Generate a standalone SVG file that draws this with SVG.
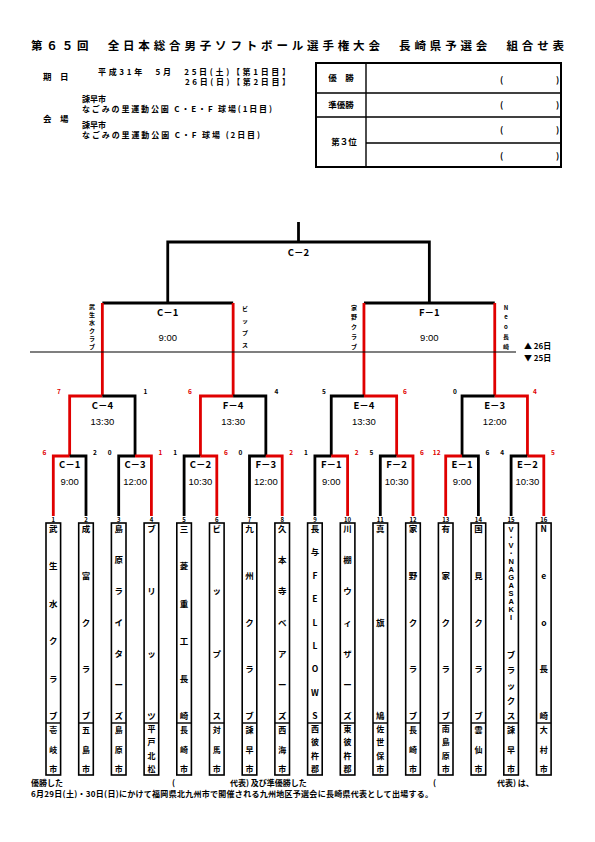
<svg xmlns="http://www.w3.org/2000/svg" width="595" height="842" viewBox="0 0 595 842">
<style>
text{font-family:"Noto Sans CJK JP","Liberation Sans",sans-serif;fill:#000}
.ttl{font-size:11.5px;font-weight:bold}
.hd{font-size:8.5px;font-weight:bold}
.hs{font-size:8px;font-weight:bold}
.c{text-anchor:middle}
.lbl{font-size:9.5px;font-weight:bold;text-anchor:middle}
.tm{font-family:"Liberation Sans",sans-serif;font-size:9.5px;text-anchor:middle}
.sc{font-size:6.5px;font-weight:bold;text-anchor:middle}
.red{fill:#e00000}
.nm{font-size:8.5px;font-weight:bold;text-anchor:middle}
.ct{font-size:8px;font-weight:bold;text-anchor:middle}
.no{font-size:6px;font-weight:bold;text-anchor:middle}
.vl{font-size:6px;font-weight:bold;text-anchor:middle}
.lat{font-family:"Liberation Sans",sans-serif;font-size:7.5px;font-weight:bold;text-anchor:middle}
.bk{fill:none;stroke:#000;stroke-width:2.8}
.rd{fill:none;stroke:#e00000;stroke-width:2.8}
.box{fill:#fff;stroke:#000;stroke-width:1.6}
.tb{fill:none;stroke:#000;stroke-width:2}
.tl{stroke:#000;stroke-width:1.4}
</style>

<g id="title">
<text class="ttl" x="31" y="50" textLength="533" lengthAdjust="spacing">第６５回　全日本総合男子ソフトボール選手権大会　長崎県予選会　組合せ表</text>
</g>

<g id="header">
<text class="hd" x="43" y="80" font-size="9.5">期　日</text>
<text class="hs" x="98" y="75" textLength="192" lengthAdjust="spacing">平成31年　5月　25日(土)【第1日目】</text>
<text class="hs" x="185" y="85" textLength="105" lengthAdjust="spacing">26日(日)【第2日目】</text>
<text class="hd" x="43" y="122" font-size="9.5">会　場</text>
<text class="hs" x="82" y="102">諫早市</text>
<text class="hs" x="82" y="112" textLength="190" lengthAdjust="spacing">なごみの里運動公園 C・E・F 球場(1日目)</text>
<text class="hs" x="82" y="128">諫早市</text>
<text class="hs" x="82" y="138" textLength="178" lengthAdjust="spacing">なごみの里運動公園 C・F 球場 (2日目)</text>
</g>

<g id="result-table">
<rect class="tb" x="316" y="63" width="245" height="104"/>
<line class="tl" x1="366" y1="63" x2="366" y2="167"/>
<line class="tl" x1="316" y1="93" x2="561" y2="93"/>
<line class="tl" x1="316" y1="117" x2="561" y2="117"/>
<line class="tl" x1="366" y1="143" x2="561" y2="143"/>
<text class="hd c" x="341" y="81">優　勝</text>
<text class="hd c" x="341" y="108">準優勝</text>
<text class="hd c" x="344" y="145">第３位</text>
<text class="hd" x="500" y="83">(</text><text class="hd" x="556" y="83">)</text>
<text class="hd" x="500" y="108">(</text><text class="hd" x="556" y="108">)</text>
<text class="hd" x="500" y="133">(</text><text class="hd" x="556" y="133">)</text>
<text class="hd" x="500" y="159">(</text><text class="hd" x="556" y="159">)</text>
</g>

<g id="connectors">
<path class="bk" d="M298.5 222V242"/>
<path class="bk" d="M167.75 303V242H429.35V303"/>
<path class="bk" d="M102.35 303H233.15"/>
<path class="bk" d="M363.95 303H494.75"/>
<path class="rd" d="M102.35 303V396M233.15 303V396M363.95 303V396M494.75 303V396"/>
<line x1="30" y1="352" x2="516" y2="352" stroke="#000" stroke-width="1.2"/>
<path class="rd" d="M69.65 456V396H102.35"/><path class="bk" d="M102.35 396H135.05V456"/>
<path class="rd" d="M200.45 456V396H233.15"/><path class="bk" d="M233.15 396H265.85V456"/>
<path class="bk" d="M331.25 456V396H363.95"/><path class="rd" d="M363.95 396H396.65V456"/>
<path class="bk" d="M462.05 456V396H494.75"/><path class="rd" d="M494.75 396H527.45V456"/>
<path class="rd" d="M53.3 516V456H69.65"/><path class="bk" d="M69.65 456H86V516"/>
<path class="bk" d="M118.7 516V456H135.05"/><path class="rd" d="M135.05 456H151.4V516"/>
<path class="bk" d="M184.1 516V456H200.45"/><path class="rd" d="M200.45 456H216.8V516"/>
<path class="bk" d="M249.5 516V456H265.85"/><path class="rd" d="M265.85 456H282.2V516"/>
<path class="bk" d="M314.9 516V456H331.25"/><path class="rd" d="M331.25 456H347.6V516"/>
<path class="bk" d="M380.3 516V456H396.65"/><path class="rd" d="M396.65 456H413V516"/>
<path class="rd" d="M445.7 516V456H462.05"/><path class="bk" d="M462.05 456H478.4V516"/>
<path class="bk" d="M511.1 516V456H527.45"/><path class="rd" d="M527.45 456H543.8V516"/>
</g>

<g id="day-marks">
<text class="hs" x="524" y="349">▲ 26日</text>
<text class="hs" x="524" y="361">▼ 25日</text>
</g>

<g id="game-C2">
<text class="lbl" x="298.5" y="256">C－2</text>
</g>
<g id="game-C1-final">
<text class="lbl" x="167.75" y="316">C－1</text>
<text class="tm" x="167.75" y="341">9:00</text>
<text class="vl"><tspan x="92" y="308.5">武</tspan><tspan x="92" y="316.5">生</tspan><tspan x="92" y="324.5">水</tspan><tspan x="92" y="332.5">ク</tspan><tspan x="92" y="340.5">ラ</tspan><tspan x="92" y="348.5">ブ</tspan></text>
<text class="vl"><tspan x="245" y="310.5">ビ</tspan><tspan x="245" y="322.5">ッ</tspan><tspan x="245" y="334.5">プ</tspan><tspan x="245" y="346.5">ス</tspan></text>
</g>
<g id="game-F1-final">
<text class="lbl" x="429.35" y="316">F－1</text>
<text class="tm" x="429.35" y="341">9:00</text>
<text class="vl"><tspan x="354" y="309.5">家</tspan><tspan x="354" y="319.2">野</tspan><tspan x="354" y="329">ク</tspan><tspan x="354" y="338.7">ラ</tspan><tspan x="354" y="348.5">ブ</tspan></text>
<text class="vl"><tspan x="506" y="309.5">N</tspan><tspan x="506" y="319.2">e</tspan><tspan x="506" y="329">o</tspan><tspan x="506" y="338.7">長</tspan><tspan x="506" y="348.5">崎</tspan></text>
</g>

<g id="game-C4">
<text class="lbl" x="102.35" y="409">C－4</text>
<text class="tm" x="102.35" y="425">13:30</text>
<text class="sc red" x="59" y="394">7</text><text class="sc" x="145.5" y="394">1</text>
</g>
<g id="game-F4">
<text class="lbl" x="233.15" y="409">F－4</text>
<text class="tm" x="233.15" y="425">13:30</text>
<text class="sc red" x="190" y="394">6</text><text class="sc" x="276.5" y="394">4</text>
</g>
<g id="game-E4">
<text class="lbl" x="363.95" y="409">E－4</text>
<text class="tm" x="363.95" y="425">13:30</text>
<text class="sc" x="324" y="394">5</text><text class="sc red" x="405" y="394">6</text>
</g>
<g id="game-E3">
<text class="lbl" x="494.75" y="409">E－3</text>
<text class="tm" x="494.75" y="425">12:00</text>
<text class="sc" x="455" y="394">0</text><text class="sc red" x="535" y="394">4</text>
</g>

<g id="game-C1">
<text class="lbl" x="69.65" y="468">C－1</text><text class="tm" x="69.65" y="485">9:00</text>
<text class="sc red" x="44.3" y="455">6</text><text class="sc" x="95" y="455">2</text>
</g>
<g id="game-C3">
<text class="lbl" x="135.05" y="468">C－3</text><text class="tm" x="135.05" y="485">12:00</text>
<text class="sc" x="109.7" y="455">0</text><text class="sc red" x="160.4" y="455">1</text>
</g>
<g id="game-C2-first">
<text class="lbl" x="200.45" y="468">C－2</text><text class="tm" x="200.45" y="485">10:30</text>
<text class="sc" x="175.1" y="455">1</text><text class="sc red" x="225.8" y="455">6</text>
</g>
<g id="game-F3">
<text class="lbl" x="265.85" y="468">F－3</text><text class="tm" x="265.85" y="485">12:00</text>
<text class="sc" x="240.5" y="455">0</text><text class="sc red" x="291.2" y="455">2</text>
</g>
<g id="game-F1">
<text class="lbl" x="331.25" y="468">F－1</text><text class="tm" x="331.25" y="485">9:00</text>
<text class="sc" x="305.9" y="455">1</text><text class="sc red" x="356.6" y="455">2</text>
</g>
<g id="game-F2">
<text class="lbl" x="396.65" y="468">F－2</text><text class="tm" x="396.65" y="485">10:30</text>
<text class="sc" x="371.3" y="455">5</text><text class="sc red" x="422" y="455">6</text>
</g>
<g id="game-E1">
<text class="lbl" x="462.05" y="468">E－1</text><text class="tm" x="462.05" y="485">9:00</text>
<text class="sc red" x="436.7" y="455">12</text><text class="sc" x="487.4" y="455">6</text>
</g>
<g id="game-E2">
<text class="lbl" x="527.45" y="468">E－2</text><text class="tm" x="527.45" y="485">10:30</text>
<text class="sc" x="502.1" y="455">4</text><text class="sc red" x="552.8" y="455">5</text>
</g>

<g id="team1">
<rect class="box" x="46" y="523" width="14.6" height="252"/><line class="tl" x1="46" y1="723" x2="60.6" y2="723"/>
<text class="no" x="53.3" y="521.5">1</text>
<text class="nm"><tspan x="53.3" y="532">武</tspan><tspan x="53.3" y="569.4">生</tspan><tspan x="53.3" y="606.8">水</tspan><tspan x="53.3" y="644.2">ク</tspan><tspan x="53.3" y="681.6">ラ</tspan><tspan x="53.3" y="719">ブ</tspan></text>
<text class="ct"><tspan x="53.3" y="733">壱</tspan><tspan x="53.3" y="752.5">岐</tspan><tspan x="53.3" y="772">市</tspan></text>
</g>
<g id="team2">
<rect class="box" x="78.7" y="523" width="14.6" height="252"/><line class="tl" x1="78.7" y1="723" x2="93.3" y2="723"/>
<text class="no" x="86" y="521.5">2</text>
<text class="nm"><tspan x="86" y="532">成</tspan><tspan x="86" y="578.8">富</tspan><tspan x="86" y="625.5">ク</tspan><tspan x="86" y="672.3">ラ</tspan><tspan x="86" y="719">ブ</tspan></text>
<text class="ct"><tspan x="86" y="733">五</tspan><tspan x="86" y="752.5">島</tspan><tspan x="86" y="772">市</tspan></text>
</g>
<g id="team3">
<rect class="box" x="111.4" y="523" width="14.6" height="252"/><line class="tl" x1="111.4" y1="723" x2="126" y2="723"/>
<text class="no" x="118.7" y="521.5">3</text>
<text class="nm"><tspan x="118.7" y="532">島</tspan><tspan x="118.7" y="563.2">原</tspan><tspan x="118.7" y="594.3">ラ</tspan><tspan x="118.7" y="625.5">イ</tspan><tspan x="118.7" y="656.7">タ</tspan><tspan x="118.7" y="687.8">ー</tspan><tspan x="118.7" y="719">ズ</tspan></text>
<text class="ct"><tspan x="118.7" y="733">島</tspan><tspan x="118.7" y="752.5">原</tspan><tspan x="118.7" y="772">市</tspan></text>
</g>
<g id="team4">
<rect class="box" x="144.1" y="523" width="14.6" height="252"/><line class="tl" x1="144.1" y1="723" x2="158.7" y2="723"/>
<text class="no" x="151.4" y="521.5">4</text>
<text class="nm"><tspan x="151.4" y="532">ブ</tspan><tspan x="151.4" y="594.3">リ</tspan><tspan x="151.4" y="656.7">ッ</tspan><tspan x="151.4" y="719">ツ</tspan></text>
<text class="ct"><tspan x="151.4" y="732">平</tspan><tspan x="151.4" y="745.3">戸</tspan><tspan x="151.4" y="758.7">北</tspan><tspan x="151.4" y="772">松</tspan></text>
</g>
<g id="team5">
<rect class="box" x="176.8" y="523" width="14.6" height="252"/><line class="tl" x1="176.8" y1="723" x2="191.4" y2="723"/>
<text class="no" x="184.1" y="521.5">5</text>
<text class="nm"><tspan x="184.1" y="532">三</tspan><tspan x="184.1" y="569.4">菱</tspan><tspan x="184.1" y="606.8">重</tspan><tspan x="184.1" y="644.2">工</tspan><tspan x="184.1" y="681.6">長</tspan><tspan x="184.1" y="719">崎</tspan></text>
<text class="ct"><tspan x="184.1" y="733">長</tspan><tspan x="184.1" y="752.5">崎</tspan><tspan x="184.1" y="772">市</tspan></text>
</g>
<g id="team6">
<rect class="box" x="209.5" y="523" width="14.6" height="252"/><line class="tl" x1="209.5" y1="723" x2="224.1" y2="723"/>
<text class="no" x="216.8" y="521.5">6</text>
<text class="nm"><tspan x="216.8" y="532">ビ</tspan><tspan x="216.8" y="594.3">ッ</tspan><tspan x="216.8" y="656.7">プ</tspan><tspan x="216.8" y="719">ス</tspan></text>
<text class="ct"><tspan x="216.8" y="733">対</tspan><tspan x="216.8" y="752.5">馬</tspan><tspan x="216.8" y="772">市</tspan></text>
</g>
<g id="team7">
<rect class="box" x="242.2" y="523" width="14.6" height="252"/><line class="tl" x1="242.2" y1="723" x2="256.8" y2="723"/>
<text class="no" x="249.5" y="521.5">7</text>
<text class="nm"><tspan x="249.5" y="532">九</tspan><tspan x="249.5" y="578.8">州</tspan><tspan x="249.5" y="625.5">ク</tspan><tspan x="249.5" y="672.3">ラ</tspan><tspan x="249.5" y="719">ブ</tspan></text>
<text class="ct"><tspan x="249.5" y="733">諫</tspan><tspan x="249.5" y="752.5">早</tspan><tspan x="249.5" y="772">市</tspan></text>
</g>
<g id="team8">
<rect class="box" x="274.9" y="523" width="14.6" height="252"/><line class="tl" x1="274.9" y1="723" x2="289.5" y2="723"/>
<text class="no" x="282.2" y="521.5">8</text>
<text class="nm"><tspan x="282.2" y="532">久</tspan><tspan x="282.2" y="563.2">本</tspan><tspan x="282.2" y="594.3">寺</tspan><tspan x="282.2" y="625.5">ベ</tspan><tspan x="282.2" y="656.7">ア</tspan><tspan x="282.2" y="687.8">ー</tspan><tspan x="282.2" y="719">ズ</tspan></text>
<text class="ct"><tspan x="282.2" y="733">西</tspan><tspan x="282.2" y="752.5">海</tspan><tspan x="282.2" y="772">市</tspan></text>
</g>
<g id="team9">
<rect class="box" x="307.6" y="523" width="14.6" height="252"/><line class="tl" x1="307.6" y1="723" x2="322.2" y2="723"/>
<text class="no" x="314.9" y="521.5">9</text>
<text class="nm"><tspan x="314.9" y="532">長</tspan><tspan x="314.9" y="555.4">与</tspan><tspan x="314.9" y="578.8">F</tspan><tspan x="314.9" y="602.1">E</tspan><tspan x="314.9" y="625.5">L</tspan><tspan x="314.9" y="648.9">L</tspan><tspan x="314.9" y="672.3">O</tspan><tspan x="314.9" y="695.6">W</tspan><tspan x="314.9" y="719">S</tspan></text>
<text class="ct"><tspan x="314.9" y="732">西</tspan><tspan x="314.9" y="745.3">彼</tspan><tspan x="314.9" y="758.7">杵</tspan><tspan x="314.9" y="772">郡</tspan></text>
</g>
<g id="team10">
<rect class="box" x="340.3" y="523" width="14.6" height="252"/><line class="tl" x1="340.3" y1="723" x2="354.9" y2="723"/>
<text class="no" x="347.6" y="521.5">10</text>
<text class="nm"><tspan x="347.6" y="532">川</tspan><tspan x="347.6" y="563.2">棚</tspan><tspan x="347.6" y="594.3">ウ</tspan><tspan x="347.6" y="625.5">ィ</tspan><tspan x="347.6" y="656.7">ザ</tspan><tspan x="347.6" y="687.8">ー</tspan><tspan x="347.6" y="719">ズ</tspan></text>
<text class="ct"><tspan x="347.6" y="732">東</tspan><tspan x="347.6" y="745.3">彼</tspan><tspan x="347.6" y="758.7">杵</tspan><tspan x="347.6" y="772">郡</tspan></text>
</g>
<g id="team11">
<rect class="box" x="373" y="523" width="14.6" height="252"/><line class="tl" x1="373" y1="723" x2="387.6" y2="723"/>
<text class="no" x="380.3" y="521.5">11</text>
<text class="nm"><tspan x="380.3" y="532">真</tspan><tspan x="380.3" y="625.5">旗</tspan><tspan x="380.3" y="719">鳩</tspan></text>
<text class="ct"><tspan x="380.3" y="732">佐</tspan><tspan x="380.3" y="745.3">世</tspan><tspan x="380.3" y="758.7">保</tspan><tspan x="380.3" y="772">市</tspan></text>
</g>
<g id="team12">
<rect class="box" x="405.7" y="523" width="14.6" height="252"/><line class="tl" x1="405.7" y1="723" x2="420.3" y2="723"/>
<text class="no" x="413" y="521.5">12</text>
<text class="nm"><tspan x="413" y="532">家</tspan><tspan x="413" y="578.8">野</tspan><tspan x="413" y="625.5">ク</tspan><tspan x="413" y="672.3">ラ</tspan><tspan x="413" y="719">ブ</tspan></text>
<text class="ct"><tspan x="413" y="733">長</tspan><tspan x="413" y="752.5">崎</tspan><tspan x="413" y="772">市</tspan></text>
</g>
<g id="team13">
<rect class="box" x="438.4" y="523" width="14.6" height="252"/><line class="tl" x1="438.4" y1="723" x2="453" y2="723"/>
<text class="no" x="445.7" y="521.5">13</text>
<text class="nm"><tspan x="445.7" y="532">有</tspan><tspan x="445.7" y="578.8">家</tspan><tspan x="445.7" y="625.5">ク</tspan><tspan x="445.7" y="672.3">ラ</tspan><tspan x="445.7" y="719">ブ</tspan></text>
<text class="ct"><tspan x="445.7" y="732">南</tspan><tspan x="445.7" y="745.3">島</tspan><tspan x="445.7" y="758.7">原</tspan><tspan x="445.7" y="772">市</tspan></text>
</g>
<g id="team14">
<rect class="box" x="471.1" y="523" width="14.6" height="252"/><line class="tl" x1="471.1" y1="723" x2="485.7" y2="723"/>
<text class="no" x="478.4" y="521.5">14</text>
<text class="nm"><tspan x="478.4" y="532">国</tspan><tspan x="478.4" y="578.8">見</tspan><tspan x="478.4" y="625.5">ク</tspan><tspan x="478.4" y="672.3">ラ</tspan><tspan x="478.4" y="719">ブ</tspan></text>
<text class="ct"><tspan x="478.4" y="733">雲</tspan><tspan x="478.4" y="752.5">仙</tspan><tspan x="478.4" y="772">市</tspan></text>
</g>
<g id="team15">
<rect class="box" x="503.8" y="523" width="14.6" height="252"/><line class="tl" x1="503.8" y1="723" x2="518.4" y2="723"/>
<text class="no" x="511.1" y="521.5">15</text>
<text class="lat"><tspan x="511.1" y="532">V</tspan><tspan x="511.1" y="540">・</tspan><tspan x="511.1" y="548">V</tspan><tspan x="511.1" y="556">・</tspan><tspan x="511.1" y="564">N</tspan><tspan x="511.1" y="572">A</tspan><tspan x="511.1" y="580">G</tspan><tspan x="511.1" y="588">A</tspan><tspan x="511.1" y="596">S</tspan><tspan x="511.1" y="604">A</tspan><tspan x="511.1" y="612">K</tspan><tspan x="511.1" y="620">I</tspan></text>
<text class="nm"><tspan x="511.1" y="658">ブ</tspan><tspan x="511.1" y="673">ラ</tspan><tspan x="511.1" y="689">ッ</tspan><tspan x="511.1" y="704">ク</tspan><tspan x="511.1" y="719">ス</tspan></text>
<text class="ct"><tspan x="511.1" y="733">諫</tspan><tspan x="511.1" y="752.5">早</tspan><tspan x="511.1" y="772">市</tspan></text>
</g>
<g id="team16">
<rect class="box" x="536.5" y="523" width="14.6" height="252"/><line class="tl" x1="536.5" y1="723" x2="551.1" y2="723"/>
<text class="no" x="543.8" y="521.5">16</text>
<text class="nm"><tspan x="543.8" y="532">N</tspan><tspan x="543.8" y="578.8">e</tspan><tspan x="543.8" y="625.5">o</tspan><tspan x="543.8" y="672.3">長</tspan><tspan x="543.8" y="719">崎</tspan></text>
<text class="ct"><tspan x="543.8" y="733">大</tspan><tspan x="543.8" y="752.5">村</tspan><tspan x="543.8" y="772">市</tspan></text>
</g>

<g id="footer">
<text class="hs" x="31" y="786">優勝した</text>
<text class="hs" x="172" y="786">(</text>
<text class="hs" x="230" y="786">代表)  及び準優勝した</text>
<text class="hs" x="433" y="786">(</text>
<text class="hs" x="497" y="786">代表)  は、</text>
<text class="hs" x="31" y="797" textLength="402" lengthAdjust="spacing">6月29日(土)・30日(日)にかけて福岡県北九州市で開催される九州地区予選会に長崎県代表として出場する。</text>
</g>
</svg>
